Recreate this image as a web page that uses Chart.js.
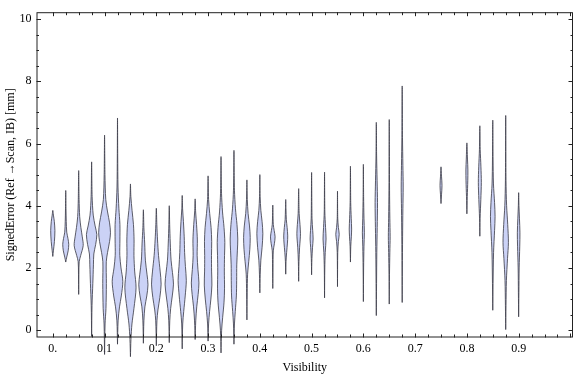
<!DOCTYPE html>
<html>
<head>
<meta charset="utf-8">
<script src="https://cdn.jsdelivr.net/npm/chart.js@4.4.0/dist/chart.umd.min.js"></script>
<style>
  body { margin: 0; background: #fff; }
</style>
</head>
<body>
<canvas id="violinChart" width="576" height="377"></canvas>
<script>
// visibility bins (x position of each violin)
var positions = [0, 0.025, 0.05, 0.075, 0.1, 0.125, 0.15, 0.175, 0.2, 0.225, 0.25, 0.275,
  0.3, 0.325, 0.35, 0.375, 0.4, 0.425, 0.45, 0.475, 0.5, 0.525, 0.55, 0.575,
  0.6, 0.625, 0.65, 0.675, 0.75, 0.8, 0.825, 0.85, 0.875, 0.9];

// smallest / largest signed error in each bin [mm]
var mins = [2.37, 2.19, 1.15, -0.2, -0.78, -0.45, -0.85, -0.42, -0.5, -0.4, -0.6, -0.3,
  -0.35, -0.73, -0.45, 0.33, 1.2, 1.34, 1.8, 1.57, 1.78, 1.04, 1.4, 2.19,
  0.92, 0.47, 0.84, 0.89, 4.07, 3.74, 3.02, 0.64, 0.02, 0.43];
var maxs = [3.85, 4.49, 5.13, 5.41, 6.27, 6.82, 4.7, 3.87, 3.92, 4.0, 4.33, 4.22,
  4.96, 5.58, 5.78, 4.83, 5.0, 4.02, 4.2, 4.55, 5.07, 5.08, 4.47, 5.27,
  5.33, 6.68, 6.77, 7.85, 5.25, 6.02, 6.57, 6.75, 6.9, 4.42];

// density profile of each bin: [error, relative width]
var profiles = [
  [[2.55,0.6],[2.85,1.6],[3.2,2.1],[3.5,1.5],[3.7,0.6]],
  [[2.35,1.0],[2.55,2.4],[2.76,3.0],[2.95,2.2],[3.15,1.0],[3.5,0.5],[3.9,0.25]],
  [[1.8,0.2],[2.2,0.5],[2.4,2.0],[2.72,4.5],[3.0,3.6],[3.3,2.2],[3.65,1.0],[4.2,0.4]],
  [[0.8,0.4],[1.5,1.2],[2.1,1.8],[2.45,2.2],[2.75,4.0],[3.07,5.2],[3.35,3.5],[3.7,1.6],[4.3,0.5]],
  [[0.2,0.5],[0.7,1.4],[1.5,1.8],[2.2,1.7],[2.5,3.0],[2.85,5.0],[3.13,5.9],[3.45,5.0],[3.8,3.0],[4.2,1.2],[5.0,0.4]],
  [[0.3,0.6],[0.75,2.0],[1.1,3.8],[1.57,5.3],[2.0,3.5],[2.4,2.3],[2.9,2.4],[3.4,2.4],[3.9,1.4],[4.6,0.5],[5.6,0.2]],
  [[-0.3,0.5],[0.2,1.5],[0.7,3.5],[1.36,5.6],[1.9,4.2],[2.4,3.5],[2.9,3.6],[3.4,3.0],[3.85,1.6],[4.3,0.4]],
  [[0.3,0.5],[0.75,1.5],[1.1,3.4],[1.46,4.6],[1.8,3.6],[2.25,2.0],[2.8,1.3],[3.3,0.5]],
  [[0.3,0.6],[0.65,1.6],[1.05,3.5],[1.48,4.8],[1.9,3.8],[2.4,2.2],[2.9,1.2],[3.4,0.5]],
  [[0.3,0.5],[0.7,1.4],[1.1,3.0],[1.48,4.2],[1.85,3.2],[2.25,1.8],[2.8,1.0],[3.4,0.4]],
  [[0.2,0.5],[0.6,1.5],[1.1,3.0],[1.6,4.1],[2.05,3.2],[2.5,2.4],[3.0,2.0],[3.5,1.2],[3.9,0.4]],
  [[0.3,0.6],[0.75,1.6],[1.15,3.0],[1.52,3.8],[1.95,2.8],[2.4,2.0],[2.9,2.2],[3.4,1.4],[3.8,0.5]],
  [[0.2,0.5],[0.6,1.5],[1.0,2.8],[1.45,3.8],[1.9,3.5],[2.4,3.4],[2.85,3.6],[3.3,3.0],[3.75,1.6],[4.2,0.5]],
  [[0.0,0.6],[0.4,1.6],[0.9,3.0],[1.35,3.5],[1.9,3.3],[2.4,3.5],[2.82,3.8],[3.3,3.0],[3.8,1.5],[4.4,0.5]],
  [[0.2,0.5],[0.6,1.3],[1.1,2.4],[1.6,2.7],[2.1,2.8],[2.55,3.4],[2.93,3.8],[3.4,3.0],[3.9,1.5],[4.5,0.5]],
  [[1.2,0.3],[1.8,0.7],[2.2,1.8],[2.6,2.9],[2.98,3.3],[3.35,2.6],[3.75,1.2],[4.2,0.4]],
  [[1.8,0.4],[2.25,1.0],[2.65,2.2],[3.1,3.0],[3.5,2.2],[3.85,1.0],[4.3,0.3]],
  [[2.0,0.25],[2.55,0.5],[2.78,1.6],[3.0,2.3],[3.2,1.4],[3.4,0.5]],
  [[2.2,0.3],[2.5,0.9],[2.8,1.7],[3.03,2.0],[3.3,1.4],[3.55,0.6],[3.9,0.25]],
  [[2.2,0.3],[2.65,0.9],[2.9,1.5],[3.1,1.8],[3.4,1.3],[3.75,0.5]],
  [[2.3,0.3],[2.65,0.9],[2.93,1.5],[3.2,1.1],[3.6,0.4]],
  [[2.0,0.25],[2.5,0.7],[2.93,1.5],[3.3,1.0],[3.8,0.3]],
  [[2.5,0.25],[2.85,0.9],[3.08,1.7],[3.3,0.9],[3.6,0.25]],
  [[2.7,0.35],[3.0,0.9],[3.25,1.2],[3.6,0.8],[4.1,0.3]],
  [[2.0,0.25],[2.7,0.6],[3.13,1.0],[3.6,0.6],[4.3,0.25]],
  [[1.5,0.25],[2.5,0.5],[3.3,0.9],[4.1,1.2],[4.8,0.8],[5.6,0.3]],
  [[1.8,0.25],[2.5,0.6],[3.0,0.9],[3.6,0.6],[4.5,0.3],[5.5,0.2]],
  [[2.0,0.2],[3.0,0.4],[3.9,0.7],[4.6,1.0],[5.3,0.7],[6.2,0.3]],
  [[4.35,0.5],[4.65,1.0],[4.95,0.5]],
  [[4.3,0.4],[4.8,0.9],[5.15,1.0],[5.5,0.6]],
  [[3.6,0.3],[4.2,1.0],[4.75,1.5],[5.25,1.1],[5.8,0.4]],
  [[1.5,0.3],[2.5,0.8],[3.2,1.8],[3.65,2.3],[4.1,1.8],[4.7,0.7],[5.5,0.3]],
  [[0.8,0.3],[1.6,0.7],[2.3,1.8],[2.82,2.7],[3.4,2.0],[4.0,0.9],[4.8,0.3]],
  [[1.2,0.25],[2.0,0.5],[2.7,1.1],[3.13,1.3],[3.6,0.8],[4.0,0.3]]
];

// tick labels
var xTickValues = [0, 0.1, 0.2, 0.3, 0.4, 0.5, 0.6, 0.7, 0.8, 0.9];
var xTickLabels = ['0.', '0.1', '0.2', '0.3', '0.4', '0.5', '0.6', '0.7', '0.8', '0.9'];
var yTickValues = [0, 2, 4, 6, 8, 10];

var widthUnit = 1 / 517;   // relative width -> x units
var fillColor = 'rgb(203,210,246)';
var edgeColor = 'rgba(60,60,72,0.82)';
var fontFamily = '"Liberation Serif", "DejaVu Serif", serif';

// outline of one violin: up the right side, down the left side
function violinPoints(i) {
  var x = positions[i];
  var prof = profiles[i];
  var pts = [{x: x, y: mins[i]}];
  prof.forEach(function (p) { pts.push({x: x + p[1] * widthUnit, y: p[0]}); });
  pts.push({x: x, y: maxs[i]});
  prof.slice().reverse().forEach(function (p) { pts.push({x: x - p[1] * widthUnit, y: p[0]}); });
  pts.push({x: x, y: mins[i]});
  return pts;
}

var datasets = positions.map(function (p, i) {
  return {
    data: violinPoints(i),
    showLine: true,
    fill: 'shape',
    backgroundColor: fillColor,
    borderColor: edgeColor,
    borderWidth: 1,
    pointRadius: 0,
    tension: 0.3,
    clip: false
  };
});

// frame with inward ticks (Mathematica style)
var framePlugin = {
  id: 'frame',
  afterDatasetsDraw: function (chart) {
    var c = chart.ctx, a = chart.chartArea;
    var xs = chart.scales.x, ys = chart.scales.y;
    c.save();
    c.strokeStyle = '#222';
    c.lineWidth = 1;
    c.strokeRect(a.left + 0.5, a.top + 0.5, a.right - a.left - 1, a.bottom - a.top - 1);
    c.beginPath();
    for (var k = 0; k <= 40; k++) {
      var v = k * 0.025;
      var px = Math.round(xs.getPixelForValue(v)) + 0.5;
      var len = (k % 4 === 0) ? 4 : 3;
      c.moveTo(px, a.bottom); c.lineTo(px, a.bottom - len);
      c.moveTo(px, a.top); c.lineTo(px, a.top + len);
    }
    for (var j = 0; j <= 20; j++) {
      var vy = j * 0.5;
      var py = Math.round(ys.getPixelForValue(vy)) + 0.5;
      var ly = (j % 4 === 0) ? 4.5 : 2.5;
      c.moveTo(a.left, py); c.lineTo(a.left + ly, py);
      c.moveTo(a.right, py); c.lineTo(a.right - ly, py);
    }
    c.stroke();
    c.restore();
  }
};

new Chart(document.getElementById('violinChart'), {
  type: 'scatter',
  data: { datasets: datasets },
  plugins: [framePlugin],
  options: {
    responsive: false,
    animation: false,
    layout: { padding: { top: 4, right: 3, left: 0, bottom: 0 } },
    elements: { line: { capBezierPoints: false } },
    plugins: { legend: { display: false }, tooltip: { enabled: false } },
    scales: {
      x: {
        type: 'linear',
        min: -0.0315,
        max: 1.005,
        grid: { display: false, drawTicks: false },
        border: { display: false },
        afterBuildTicks: function (s) { s.ticks = xTickValues.map(function (v) { return {value: v}; }); },
        afterFit: function (s) { s.height = 39.5; },
        ticks: {
          color: '#000',
          padding: 4,
          font: { family: fontFamily, size: 12 },
          maxRotation: 0,
          callback: function (v, idx) { return xTickLabels[idx]; }
        },
        title: {
          display: true,
          text: 'Visibility',
          color: '#000',
          padding: { top: 0, bottom: 2 },
          font: { family: fontFamily, size: 12 }
        }
      },
      y: {
        min: -0.235,
        max: 10.22,
        grid: { display: false, drawTicks: false },
        border: { display: false },
        afterBuildTicks: function (s) { s.ticks = yTickValues.map(function (v) { return {value: v}; }); },
        afterFit: function (s) { s.width = 36.5; },
        ticks: {
          color: '#000',
          padding: 5,
          font: { family: fontFamily, size: 12 }
        },
        title: {
          display: true,
          text: 'SignedError (Ref \u2192Scan, IB) [mm]',
          color: '#000',
          padding: { top: 4, bottom: 0 },
          font: { family: fontFamily, size: 12 }
        }
      }
    }
  }
});
</script>
</body>
</html>
